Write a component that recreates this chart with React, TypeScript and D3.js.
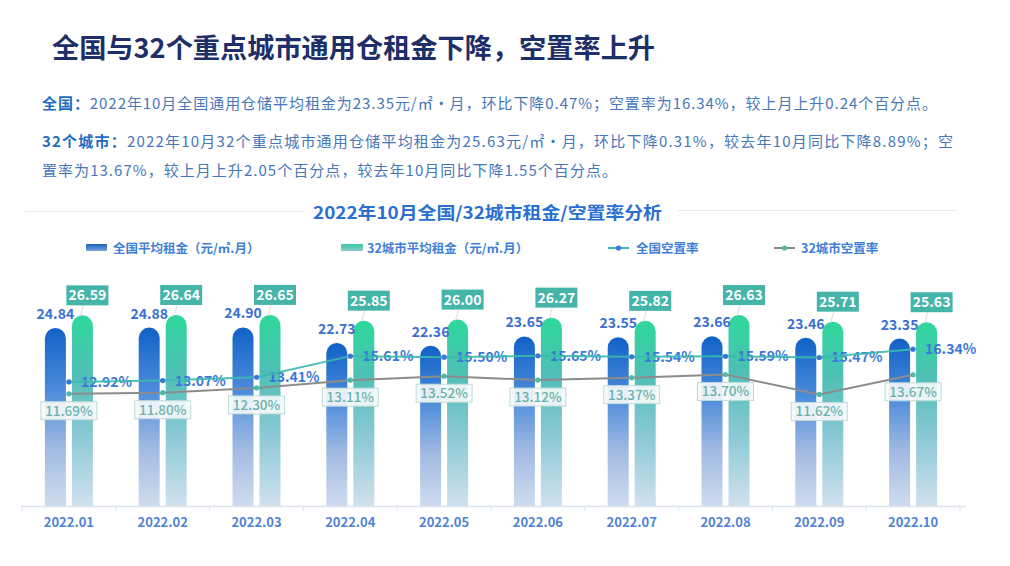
import React from 'react';
import * as d3 from 'd3';

const months = ['2022.01', '2022.02', '2022.03', '2022.04', '2022.05', '2022.06', '2022.07', '2022.08', '2022.09', '2022.10'];
const nationalRent = [24.84, 24.88, 24.9, 22.73, 22.36, 23.65, 23.55, 23.66, 23.46, 23.35];
const cityRent = [26.59, 26.64, 26.65, 25.85, 26.0, 26.27, 25.82, 26.63, 25.71, 25.63];
const nationalVacancy = [12.92, 13.07, 13.41, 15.61, 15.5, 15.65, 15.54, 15.59, 15.47, 16.34];
const cityVacancy = [11.69, 11.8, 12.3, 13.11, 13.52, 13.12, 13.37, 13.7, 11.62, 13.67];

const title = '全国与32个重点城市通用仓租金下降，空置率上升';
const para1Head = '全国：';
const para1Body = '2022年10月全国通用仓储平均租金为23.35元/㎡·月，环比下降0.47%；空置率为16.34%，较上月上升0.24个百分点。';
const para2Head = '32个城市：';
const para2Body = '2022年10月32个重点城市通用仓储平均租金为25.63元/㎡·月，环比下降0.31%，较去年10月同比下降8.89%；空';
const para3Body = '置率为13.67%，较上月上升2.05个百分点，较去年10月同比下降1.55个百分点。';
const subtitle = '2022年10月全国/32城市租金/空置率分析';
const legendNames = ['全国平均租金（元/㎡.月）', '32城市平均租金（元/㎡.月）', '全国空置率', '32城市空置率'];

const W = 1010;
const H = 566;
const FONT = '"Noto Sans CJK SC", "Noto Sans", sans-serif';

export default function App() {
  const base = 506;
  const x = d3.scaleBand<string>().domain(months).range([22, 960]).padding(0);
  const yRent = d3.scaleLinear().domain([0, 30]).range([base, 290.9]);
  const yRate = d3.scaleLinear().domain([0, 22.5]).range([base, 290]);
  const cx = (m: string) => (x(m) as number) + x.bandwidth() / 2;
  const barW = 21;
  const gap = 3;

  const barPath = (x0: number, top: number) => {
    const r = barW / 2;
    return `M${x0},${base}L${x0},${top + r}A${r},${r} 0 0 1 ${x0 + barW},${top + r}L${x0 + barW},${base}Z`;
  };

  const natLine = d3
    .line<number>()
    .x((_, i) => cx(months[i]))
    .y((d) => yRate(d))(nationalVacancy) as string;
  const cityLine = d3
    .line<number>()
    .x((_, i) => cx(months[i]))
    .y((d) => yRate(d))(cityVacancy) as string;

  const legendY = 248;

  return (
    <svg width={W} height={H} style={{ display: 'block', position: 'absolute', left: 0, top: 0, fontFamily: FONT }}>
      <defs>
        <linearGradient id="gBlue" x1="0" y1="0" x2="0" y2="1">
          <stop offset="0" stopColor="#1062c6" />
          <stop offset="0.35" stopColor="#4c8bdb" />
          <stop offset="0.68" stopColor="#a2bbe2" />
          <stop offset="1" stopColor="#cfdcef" />
        </linearGradient>
        <linearGradient id="gGreen" x1="0" y1="0" x2="0" y2="1">
          <stop offset="0" stopColor="#2dd89b" />
          <stop offset="0.3" stopColor="#4ebfb6" />
          <stop offset="0.62" stopColor="#8ac8d5" />
          <stop offset="1" stopColor="#d0e1ee" />
        </linearGradient>
        <linearGradient id="gBlueL" x1="0" y1="0" x2="0" y2="1">
          <stop offset="0" stopColor="#1a5fb8" />
          <stop offset="1" stopColor="#7ba4dc" />
        </linearGradient>
        <linearGradient id="gGreenL" x1="0" y1="0" x2="0" y2="1">
          <stop offset="0" stopColor="#35c9a0" />
          <stop offset="1" stopColor="#8cc6cf" />
        </linearGradient>
      </defs>
      <rect x={0} y={0} width={W} height={H} fill="#ffffff" />

      {/* Header */}
      <text x={52} y={58} fontSize={27} fontWeight={700} fill="#1d2e68" textLength={603} lengthAdjust="spacingAndGlyphs">
        {title}
      </text>
      <text x={42} y={109} fontSize={15} textLength={895} lengthAdjust="spacing">
        <tspan fontWeight={700} fill="#1f6cc2">{para1Head}</tspan>
        <tspan fill="#4677b9">{para1Body}</tspan>
      </text>
      <text x={42} y={147} fontSize={15} textLength={911} lengthAdjust="spacing">
        <tspan fontWeight={700} fill="#1f6cc2">{para2Head}</tspan>
        <tspan fill="#4677b9">{para2Body}</tspan>
      </text>
      <text x={42} y={176} fontSize={15} fill="#4677b9" textLength={575} lengthAdjust="spacing">
        {para3Body}
      </text>

      {/* Subtitle */}
      <line x1={25} x2={305} y1={211.5} y2={211.5} stroke="#e6eaf0" strokeWidth={1.2} />
      <line x1={678} x2={957} y1={210.5} y2={210.5} stroke="#e6eaf0" strokeWidth={1.2} />
      <text x={313} y={218.5} fontSize={17} fontWeight={700} fill="#2b6fd1" textLength={349} lengthAdjust="spacingAndGlyphs">
        {subtitle}
      </text>

      {/* Legend */}
      <g fontSize={12.5} fontWeight={700} fill="#3f80d6">
        <rect x={86} y={legendY - 4} width={21} height={7} rx={1} fill="url(#gBlueL)" />
        <text x={113} y={legendY + 4.5}>{legendNames[0]}</text>
        <rect x={341} y={legendY - 4} width={22} height={7} rx={1} fill="url(#gGreenL)" />
        <text x={367} y={legendY + 4.5}>{legendNames[1]}</text>
        <line x1={608} x2={629} y1={legendY} y2={legendY} stroke="#3cb5ae" strokeWidth={2} />
        <circle cx={618.5} cy={legendY} r={2.6} fill="#3a78d4" />
        <text x={636} y={legendY + 4.5}>{legendNames[2]}</text>
        <line x1={774} x2={795} y1={legendY} y2={legendY} stroke="#8a8a8a" strokeWidth={2} />
        <circle cx={784.5} cy={legendY} r={2.6} fill="#4dbaa8" />
        <text x={801} y={legendY + 4.5}>{legendNames[3]}</text>
      </g>

      {/* Axis */}
      <line x1={22} x2={966} y1={base + 0.5} y2={base + 0.5} stroke="#dbe4ef" strokeWidth={1.5} />
      {months.map((m, i) => (
        <line key={'t' + i} x1={x(m) as number} x2={x(m) as number} y1={base} y2={base + 5} stroke="#dbe4ef" strokeWidth={1} />
      ))}
      <line x1={960} x2={960} y1={base} y2={base + 5} stroke="#dbe4ef" strokeWidth={1} />
      {months.map((m, i) => (
        <text key={'xl' + i} x={cx(m)} y={527} textAnchor="middle" fontSize={13} fontWeight={700} fill="#4f82d6">
          {m}
        </text>
      ))}

      {/* Bars */}
      {months.map((m, i) => {
        const c = cx(m);
        const bx = c - gap - barW;
        const gx = c + gap;
        const bt = yRent(nationalRent[i]);
        const gt = yRent(cityRent[i]);
        return (
          <g key={'b' + i}>
            <path d={barPath(bx, bt)} fill="url(#gBlue)" />
            <path d={barPath(gx, gt)} fill="url(#gGreen)" />
          </g>
        );
      })}

      {/* Rent labels */}
      {months.map((m, i) => {
        const c = cx(m);
        const bx = c - gap - barW / 2;
        const gxc = c + gap + barW / 2;
        const bt = yRent(nationalRent[i]);
        const gt = yRent(cityRent[i]);
        const boxW = 42;
        const boxH = 20;
        const boxC = gxc + 5;
        const boxB = gt - 10;
        return (
          <g key={'rl' + i}>
            <text x={bx} y={bt - 9} textAnchor="middle" fontSize={14} fontWeight={700} fill="#3a6fd2">
              {nationalRent[i].toFixed(2)}
            </text>
            <line x1={gxc - 2} y1={gt + 1} x2={boxC - 4} y2={boxB} stroke="#e2c9d9" strokeWidth={0.8} />
            <rect x={boxC - boxW / 2} y={boxB - boxH} width={boxW} height={boxH} fill="#45b5a9" />
            <text x={boxC} y={boxB - 5} textAnchor="middle" fontSize={14} fontWeight={700} fill="#ffffff">
              {cityRent[i].toFixed(2)}
            </text>
          </g>
        );
      })}

      {/* National vacancy labels */}
      {months.map((m, i) => (
        <text key={'nl' + i} x={cx(m) + 12} y={yRate(nationalVacancy[i]) + 5} fontSize={14} fontWeight={700} fill="#3a78d6">
          {nationalVacancy[i].toFixed(2)}%
        </text>
      ))}

      {/* Lines */}
      <path d={cityLine} fill="none" stroke="#8c8c8c" strokeWidth={2} />
      <path d={natLine} fill="none" stroke="#3cb8b0" strokeWidth={2} opacity={0.9} />
      {months.map((m, i) => (
        <circle key={'cd' + i} cx={cx(m)} cy={yRate(cityVacancy[i])} r={2.6} fill="#4dbaa8" />
      ))}
      {months.map((m, i) => (
        <circle key={'nd' + i} cx={cx(m)} cy={yRate(nationalVacancy[i])} r={2.6} fill="#3a78d4" />
      ))}

      {/* City vacancy labels */}
      {months.map((m, i) => {
        const py = yRate(cityVacancy[i]);
        const bw = 56;
        const bh = 18;
        return (
          <g key={'cl' + i}>
            <rect x={cx(m) - bw / 2} y={py + 8} width={bw} height={bh} fill="#f5f9f9" fillOpacity={0.92} stroke="#bcdcd8" strokeWidth={1} />
            <text x={cx(m)} y={py + 22} textAnchor="middle" fontSize={13.5} fontWeight={500} fill="#6cb1ae">
              {cityVacancy[i].toFixed(2)}%
            </text>
          </g>
        );
      })}
    </svg>
  );
}
